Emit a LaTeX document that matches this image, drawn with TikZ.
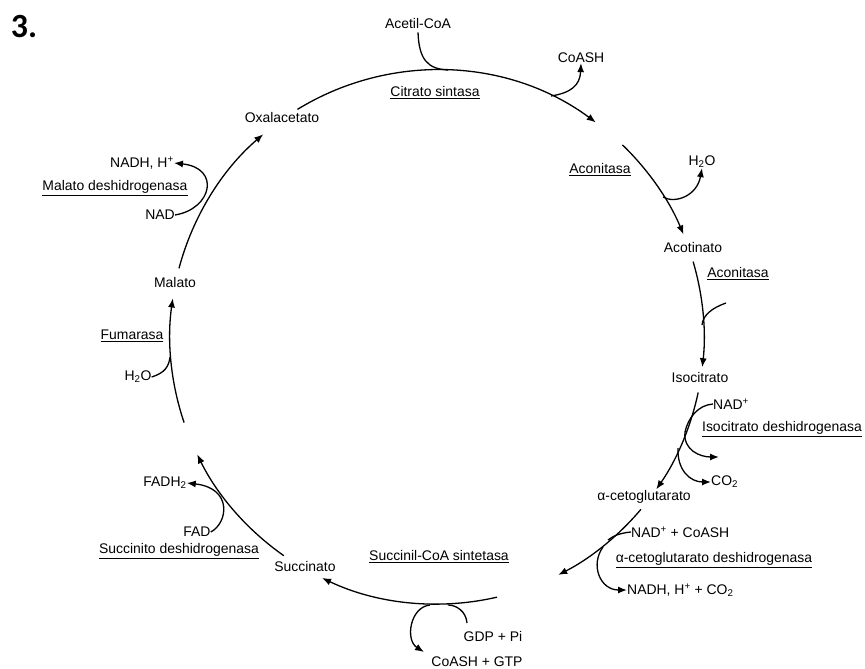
\documentclass[tikz,border=0pt]{standalone}
\usepackage{fontspec}
\setmainfont{Liberation Sans}
\newfontfamily\numfont{Carlito}
\usetikzlibrary{calc,arrows.meta}
\begin{document}
\begin{tikzpicture}[x=1bp,y=-1bp,
  lbl/.style={inner sep=0pt, font=\fontsize{14}{16}\selectfont},
  ln/.style={line width=1.3bp},
  arr/.style={ln,-{Latex[length=9bp,width=7bp]}}]
\useasboundingbox (0,0) rectangle (865,669);
\coordinate (C) at (437,337);
\def\R{267}
% title
\node[inner sep=0pt,font=\numfont\bfseries\fontsize{34}{36}\selectfont] (num) at (24,27) {3.};
% metabolites
\node[lbl] (acetil) at (418,24) {Acetil-CoA};
\node[lbl] (coash1) at (581,58) {CoASH};
\node[lbl] (citsin) at (435,93) {\underline{Citrato sintasa}};
\node[lbl] (oxal) at (282,118) {Oxalacetato};
\node[lbl] (nadh1) at (142,163) {NADH, H\textsuperscript{+}};
\node[lbl] (maldh) at (115,188) {\underline{Malato deshidrogenasa}};
\node[lbl] (nad1) at (160,215) {NAD};
\node[lbl] (malato) at (175,283) {Malato};
\node[lbl] (fum) at (132,336) {\underline{Fumarasa}};
\node[lbl] (h2o1) at (138,377) {H\textsubscript{2}O};
\node[lbl] (fadh) at (165,483) {FADH\textsubscript{2}};
\node[lbl] (fad) at (197,532) {FAD};
\node[lbl] (sucdh) at (179,551) {\underline{Succinito deshidrogenasa}};
\node[lbl] (succ) at (305,567) {Succinato};
\node[lbl] (sucsin) at (439,557) {\underline{Succinil-CoA sintetasa}};
\node[lbl] (gdp) at (493,637) {GDP + Pi};
\node[lbl] (gtp) at (477,662) {CoASH + GTP};
\node[lbl] (acon1) at (600,170) {\underline{Aconitasa}};
\node[lbl] (h2o2) at (702,162) {H\textsubscript{2}O};
\node[lbl] (acot) at (693,248) {Acotinato};
\node[lbl] (acon2) at (738,274) {\underline{Aconitasa}};
\node[lbl] (isoc) at (700,378) {Isocitrato};
\node[lbl,anchor=west] (nad2) at (713,404) {NAD\textsuperscript{+}};
\node[lbl] (isodh) at (782,429) {\underline{Isocitrato deshidrogenasa}};
\node[lbl,anchor=west] (co2) at (711,482) {CO\textsubscript{2}};
\node[lbl] (akg) at (644,497) {α-cetoglutarato};
\node[lbl,anchor=west] (nad3) at (631,532) {NAD\textsuperscript{+} + CoASH};
\node[lbl] (akgdh) at (714,560) {\underline{α-cetoglutarato deshidrogenasa}};
\node[lbl,anchor=west] (nadh3) at (627,590) {NADH, H\textsuperscript{+} + CO\textsubscript{2}};
% cycle arcs
\draw[arr] ($(C)+(-121.5:\R)$) coordinate (a1) arc[start angle=-121.5, end angle=-53.5, radius=\R] coordinate (b1);
\draw[arr] ($(C)+(-46:\R)$) coordinate (a2) arc[start angle=-46, end angle=-22.6, radius=\R] coordinate (b2);
\draw[arr] ($(C)+(-16.4:\R)$) coordinate (a3) arc[start angle=-16.4, end angle=6.5, radius=\R] coordinate (b3);
\draw[arr] ($(C)+(12:\R)$) coordinate (a4) arc[start angle=12, end angle=34.8, radius=\R] coordinate (b4);
\draw[arr] ($(C)+(40.2:\R)$) coordinate (a5) arc[start angle=40.2, end angle=63, radius=\R] coordinate (b5);
\draw[arr] ($(C)+(77:\R)$) coordinate (a6) arc[start angle=77, end angle=115.5, radius=\R] coordinate (b6);
\draw[arr] ($(C)+(125:\R)$) coordinate (a7) arc[start angle=125, end angle=153.9, radius=\R] coordinate (b7);
\draw[arr] ($(C)+(161.3:\R)$) coordinate (a8) arc[start angle=161.3, end angle=188.3, radius=\R] coordinate (b8);
\draw[arr] ($(C)+(194.9:\R)$) coordinate (a9) arc[start angle=194.9, end angle=229.4, radius=\R] coordinate (b9);
% side branches
\coordinate (j1) at (448,70);
\draw[ln] (acetil.south) ++(0,3) .. controls (419,60) and (428,69) .. (j1);
\coordinate (j2) at (551,96);
\draw[arr] (j2) .. controls (570,93) and (580,86) .. (coash1.south);
\coordinate (j3) at (663,197);
\draw[arr] (j3) .. controls (675,204) and (697,196) .. (h2o2.south);
\coordinate (j4s) at (726,303);
\coordinate (j4) at (702,325);
\draw[ln] (j4s) .. controls (712,308) and (703,315) .. (j4);
\coordinate (j5) at (685,432);
\coordinate (o5) at (719,457);
\draw[ln] (nad2.west) .. controls (698,405) and (688,418) .. (j5);
\draw[arr] (j5) .. controls (683,450) and (700,457) .. (o5);
\coordinate (j6) at (678,448);
\draw[arr] (j6) .. controls (677,470) and (690,482) .. (co2.west);
\coordinate (j7) at (608,540);
\draw[ln] (nad3.west) .. controls (620,533) and (613,536) .. (j7);
\coordinate (j8) at (603,547);
\draw[arr] (j8) .. controls (590,565) and (600,590) .. (nadh3.west);
\coordinate (j9) at (448,605);
\draw[ln] (467,623) coordinate (g0) .. controls (466,611) and (456,605) .. (j9);
\coordinate (j10) at (430,605);
\draw[arr] (j10) .. controls (410,607) and (405,640) .. (424,652);
\draw[arr] (fad.east) .. controls (228,523) and (233,488) .. (fadh.east);
\draw[ln] (h2o1.east) .. controls (165,373) and (169,366) .. (170,357) coordinate (j11);
\draw[arr] (nad1.east) .. controls (212,209) and (221,168) .. (nadh1.east);
\end{tikzpicture}
\end{document}
